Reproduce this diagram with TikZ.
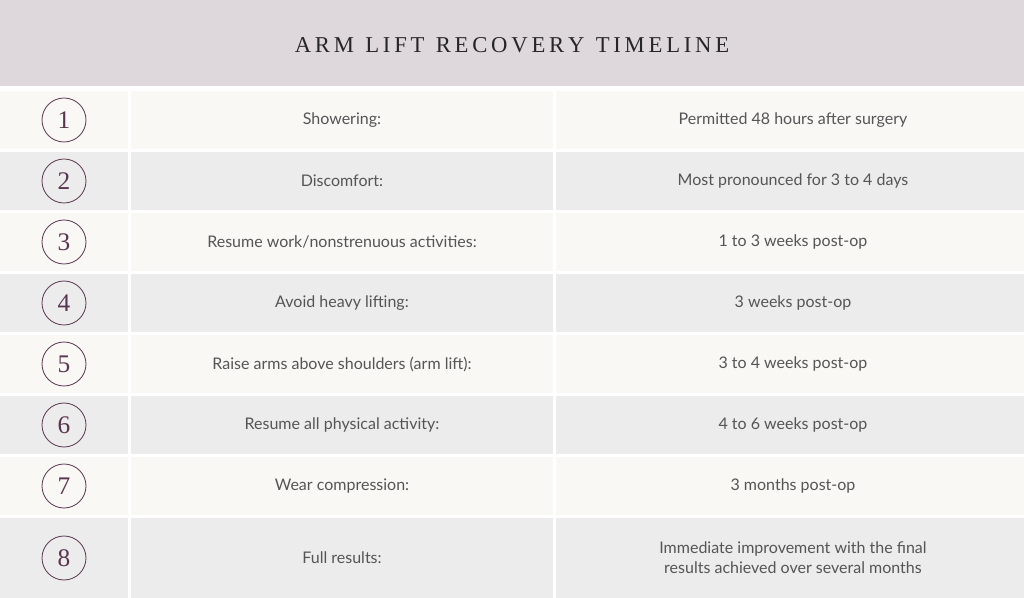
\documentclass[tikz,border=0pt]{standalone}
\usepackage{fontspec}
\setmainfont{Lato}
\newfontfamily\headfont{Liberation Serif}
\definecolor{headbg}{HTML}{DED7DC}
\definecolor{rowlight}{HTML}{F9F8F5}
\definecolor{rowdark}{HTML}{ECECEC}
\definecolor{plum}{HTML}{5A3550}
\definecolor{txt}{HTML}{555555}
\tikzset{
  cell/.style={inner sep=0pt},
  numring/.style={circle, draw=plum, line width=0.6pt, minimum size=33pt, inner sep=0pt,
    text=plum, font=\headfont\fontsize{19}{19}\selectfont},
  label/.style={text=txt, font=\fontsize{12}{15}\selectfont, align=center}
}
\begin{document}
\begin{tikzpicture}[x=0.75pt,y=-0.75pt]
    % --- Canvas and header ---
    \fill[white] (0,0) rectangle (1024,598);
    \useasboundingbox (0,0) rectangle (1024,598);
    \fill[headbg] (0,0) rectangle (1024,86);
    \node[text=black!85, font=\headfont\fontsize{17}{17}\selectfont] (title) at (512,45)
      {A\,R\,M\ \ L\,I\,F\,T\ \ R\,E\,C\,O\,V\,E\,R\,Y\ \ T\,I\,M\,E\,L\,I\,N\,E};

    % --- Rows: number / top / bottom / shade / activity / timing ---
    \foreach \n/\ya/\yb/\shade/\what/\when in {
      1/91/149/rowlight/Showering:/Permitted 48 hours after surgery,
      2/152/210/rowdark/Discomfort:/Most pronounced for 3 to 4 days,
      3/213/271/rowlight/Resume work\slash nonstrenuous activities:/1 to 3 weeks post-op,
      4/274/332/rowdark/Avoid heavy lifting:/3 weeks post-op,
      5/335/393/rowlight/Raise arms above shoulders (arm lift):/3 to 4 weeks post-op,
      6/396/454/rowdark/Resume all physical activity:/4 to 6 weeks post-op,
      7/457/515/rowlight/Wear compression:/3 months post-op,
      8/518/598/rowdark/Full results:/{Immediate improvement with the final\\results achieved over several months}} {
        \fill[\shade] (0,\ya) rectangle (128,\yb);
        \fill[\shade] (131,\ya) rectangle (553,\yb);
        \fill[\shade] (556,\ya) rectangle (1024,\yb);
        \node[numring] (num\n) at (64,{(\ya+\yb)/2}) {\n};
        \node[label] (what\n) at (342,{(\ya+\yb)/2}) {\what};
        \node[label] (when\n) at (793,{(\ya+\yb)/2}) {\when};
    }
\end{tikzpicture}
\end{document}
